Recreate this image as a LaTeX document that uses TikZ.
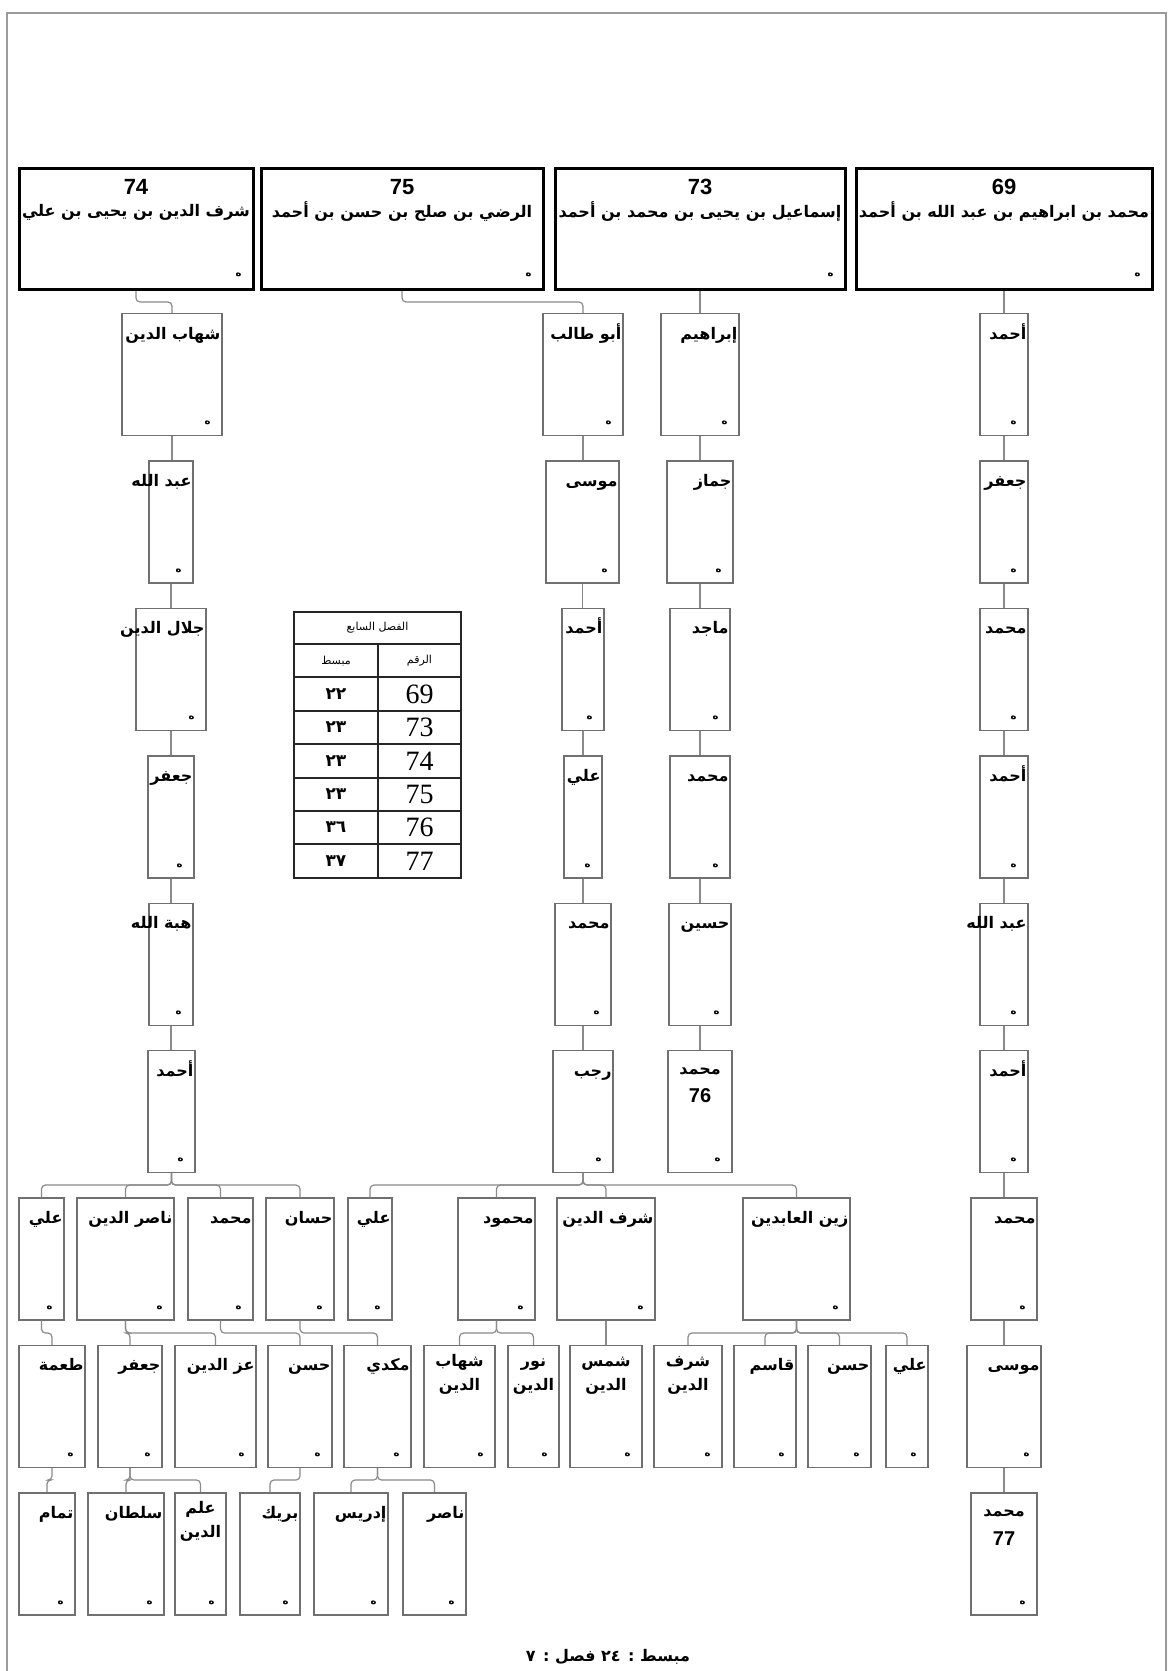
\documentclass[tikz,border=0pt]{standalone}
\usepackage{fontspec}
\setmainfont{Liberation Sans}
\newfontfamily\arabicf[Script=Arabic]{DejaVu Sans}
\newfontfamily\serifnum{Liberation Serif}
\TeXXeTstate=1
\usetikzlibrary{calc}
\definecolor{boxgray}{HTML}{707070}
\definecolor{linegray}{HTML}{8A8A8A}
\definecolor{framegray}{HTML}{9A9A9A}
\tikzset{
 pbox/.style={draw=boxgray, line width=1.3pt, minimum height=122pt, inner sep=0pt, anchor=north},
 topbox/.style={draw=black, line width=3pt, minimum height=121pt, inner sep=0pt, anchor=north},
 lbl/.style={font=\arabicf\bfseries\fontsize{16}{20}\selectfont, inner sep=1pt, anchor=base east},
 lblc/.style={font=\arabicf\bfseries\fontsize{16}{24}\selectfont, inner sep=1pt, anchor=north, align=center},
 tname/.style={font=\arabicf\bfseries\fontsize{16}{20}\selectfont, inner sep=0pt},
 tnum/.style={font=\bfseries\fontsize{22}{24}\selectfont, inner sep=0pt},
 hmark/.style={font=\arabicf\bfseries\fontsize{10}{11}\selectfont, inner sep=0pt},
 conn/.style={draw=linegray, line width=1.2pt, rounded corners=4pt},
 tbl/.style={draw=black!85, line width=1.6pt},
 tcell/.style={inner sep=0pt},
}
% box: name, left, right, top, label
\newcommand\pbx[5]{%
  \node[pbox, minimum width={(#3-#2)*1pt}] (#1) at ({(#2+#3)/2},#4) {};
  \node[lbl] (#1-t) at ([xshift=-1pt,yshift=-26pt]#1.north east) {\beginR #5\endR};
  \node[hmark] (#1-h) at ([xshift=-15pt,yshift=13pt]#1.south east) {ه};
}
% box with centred multi-line label
\newcommand\pbxm[5]{%
  \node[pbox, minimum width={(#3-#2)*1pt}] (#1) at ({(#2+#3)/2},#4) {};
  \node[lblc] (#1-t) at ([yshift=-3pt]#1.north) {\rule{0pt}{17pt}#5};
  \node[hmark] (#1-h) at ([xshift=-15pt,yshift=13pt]#1.south east) {ه};
}
% box with name and number
\newcommand\pbxc[6]{%
  \node[pbox, minimum width={(#3-#2)*1pt}] (#1) at ({(#2+#3)/2},#4) {};
  \node[lbl, anchor=base] (#1-t) at ([yshift=-24pt]#1.north) {\beginR #5\endR};
  \node[tnum, font=\bfseries\fontsize{20}{22}\selectfont] (#1-n) at ([yshift=-46pt]#1.north) {#6};
  \node[hmark] (#1-h) at ([xshift=-15pt,yshift=13pt]#1.south east) {ه};
}
% top box: name, left, right, top, number, text
\newcommand\tbx[6]{%
  \node[topbox, minimum width={(#3-#2)*1pt}] (#1) at ({(#2+#3)/2},#4) {};
  \node[tnum] (#1-n) at ([yshift=-20pt]#1.north) {#5};
  \node[tname] (#1-t) at ([yshift=-45pt]#1.north) {\beginR #6\endR};
  \node[hmark] (#1-h) at ([xshift=-16pt,yshift=16pt]#1.south east) {ه};
}
\newcommand\cn[3]{\draw[conn] (#1.south) -- (#1.south |- 0,#3) -| (#2.north);}
\newcommand\cs[2]{\draw[conn] (#1.south) -- (#1.south |- #2.north);}

\begin{document}
\begin{tikzpicture}[x=1pt,y=-1pt]
\useasboundingbox (0,0) rectangle (1169,1671);
\fill[white] (0,0) rectangle (1169,1671);
% page frame
\draw[framegray, line width=1.5pt] (7,1700) -- (7,13) -- (1166,13) -- (1166,1700);

% top boxes
\tbx{T74}{19}{253}{167}{74}{شرف الدين بن يحيى بن علي}
\tbx{T75}{261}{543}{167}{75}{الرضي بن صلح بن حسن بن أحمد}
\tbx{T73}{555}{845}{167}{73}{إسماعيل بن يحيى بن محمد بن أحمد}
\tbx{T69}{856}{1152}{167}{69}{محمد بن ابراهيم بن عبد الله بن أحمد}

% column 74
\pbx{a1}{122}{222}{313}{شهاب الدين}
\pbx{a2}{149}{193}{460.4}{عبد الله}
\pbx{a3}{136}{206}{607.8}{جلال الدين}
\pbx{a4}{148}{194}{755.2}{جعفر}
\pbx{a5}{149}{193}{902.6}{هبة الله}
\pbx{a6}{148}{195}{1050}{أحمد}
% column 75
\pbx{b1}{543}{623}{313}{أبو طالب}
\pbx{b2}{546}{619}{460.4}{موسى}
\pbx{b3}{562}{604}{607.8}{أحمد}
\pbx{b4}{564}{602}{755.2}{علي}
\pbx{b5}{555}{611}{902.6}{محمد}
\pbx{b6}{553}{613}{1050}{رجب}
% column 73
\pbx{c1}{661}{739}{313}{إبراهيم}
\pbx{c2}{667}{733}{460.4}{جماز}
\pbx{c3}{670}{730}{607.8}{ماجد}
\pbx{c4}{670}{730}{755.2}{محمد}
\pbx{c5}{669}{731}{902.6}{حسين}
\pbxc{c6}{668}{732}{1050}{محمد}{76}
% column 69
\pbx{d1}{980}{1028}{313}{أحمد}
\pbx{d2}{980}{1028}{460.4}{جعفر}
\pbx{d3}{980}{1028}{607.8}{محمد}
\pbx{d4}{980}{1028}{755.2}{أحمد}
\pbx{d5}{980}{1028}{902.6}{عبد الله}
\pbx{d6}{980}{1028}{1050}{أحمد}
\pbx{d7}{971}{1037}{1197.4}{محمد}
\pbx{d8}{967}{1041}{1344.8}{موسى}
\pbxc{d9}{971}{1037}{1492.2}{محمد}{77}

% row 7
\pbx{e1}{19}{64}{1197.4}{علي}
\pbx{e2}{77}{174}{1197.4}{ناصر الدين}
\pbx{e3}{188}{253}{1197.4}{محمد}
\pbx{e4}{266}{334}{1197.4}{حسان}
\pbx{e5}{348}{392}{1197.4}{علي}
\pbx{e6}{458}{535}{1197.4}{محمود}
\pbx{e7}{557}{655}{1197.4}{شرف الدين}
\pbx{e8}{743}{850}{1197.4}{زين العابدين}

% row 8
\pbx{f1}{19}{85}{1344.8}{طعمة}
\pbx{f2}{98}{162}{1344.8}{جعفر}
\pbx{f3}{175}{256}{1344.8}{عز الدين}
\pbx{f4}{268}{332}{1344.8}{حسن}
\pbx{f5}{344}{411}{1344.8}{مكدي}
\pbxm{f6}{424}{495}{1344.8}{\beginR شهاب\endR\\\beginR الدين\endR}
\pbxm{f7}{508}{559}{1344.8}{\beginR نور\endR\\\beginR الدين\endR}
\pbxm{f8}{570}{642}{1344.8}{\beginR شمس\endR\\\beginR الدين\endR}
\pbxm{f9}{654}{722}{1344.8}{\beginR شرف\endR\\\beginR الدين\endR}
\pbx{f10}{734}{796}{1344.8}{قاسم}
\pbx{f11}{808}{871}{1344.8}{حسن}
\pbx{f12}{886}{928}{1344.8}{علي}

% row 9
\pbx{g1}{19}{75}{1492.2}{تمام}
\pbx{g2}{88}{164}{1492.2}{سلطان}
\pbxm{g3}{175}{226}{1492.2}{\beginR علم\endR\\\beginR الدين\endR}
\pbx{g4}{240}{300}{1492.2}{بريك}
\pbx{g5}{314}{388}{1492.2}{إدريس}
\pbx{g6}{403}{466}{1492.2}{ناصر}

% connectors: top
\cn{T74}{a1}{302}
\cn{T75}{b1}{302}
\cs{T73}{c1}
\cs{T69}{d1}
% chains
\cs{a1}{a2}\cs{a2}{a3}\cs{a3}{a4}\cs{a4}{a5}\cs{a5}{a6}
\cs{b1}{b2}\cs{b2}{b3}\cs{b3}{b4}\cs{b4}{b5}\cs{b5}{b6}
\cs{c1}{c2}\cs{c2}{c3}\cs{c3}{c4}\cs{c4}{c5}\cs{c5}{c6}
\cs{d1}{d2}\cs{d2}{d3}\cs{d3}{d4}\cs{d4}{d5}\cs{d5}{d6}
\cs{d6}{d7}\cs{d7}{d8}\cs{d8}{d9}
% row 6 -> row 7
\cn{a6}{e1}{1185}\cn{a6}{e2}{1185}\cn{a6}{e3}{1185}\cn{a6}{e4}{1185}
\cn{b6}{e5}{1185}\cn{b6}{e6}{1185}\cn{b6}{e7}{1185}\cn{b6}{e8}{1185}
% row 7 -> row 8
\cn{e1}{f1}{1333}
\cn{e2}{f2}{1333}\cn{e2}{f3}{1333}
\cn{e3}{f4}{1333}
\cn{e4}{f5}{1333}
\cn{e6}{f6}{1333}\cn{e6}{f7}{1333}
\cs{e7}{f8}
\cn{e8}{f9}{1333}\cn{e8}{f10}{1333}\cn{e8}{f11}{1333}\cn{e8}{f12}{1333}
% row 8 -> row 9
\cn{f1}{g1}{1480}
\cn{f2}{g2}{1480}\cn{f2}{g3}{1480}
\cn{f4}{g4}{1480}
\cn{f5}{g5}{1480}\cn{f5}{g6}{1480}

% table
\draw[tbl] (294,612) rectangle (461,878);
\foreach \yy in {644,677,711,744,778,811,844} \draw[tbl] (294,\yy) -- (461,\yy);
\draw[tbl] (378,644) -- (378,878);
\node[tcell, font=\arabicf\fontsize{11}{12}\selectfont] (tt) at (377.5,628) {\beginR الفصل السابع\endR};
\node[tcell, font=\arabicf\fontsize{11}{12}\selectfont] (th1) at (419.5,661) {الرقم};
\node[tcell, font=\arabicf\fontsize{11}{12}\selectfont] (th2) at (336,661) {مبسط};
\foreach \nn/\aa/\yy in {69/٢٢/694, 73/٢٣/727.5, 74/٢٣/761, 75/٢٣/794.5, 76/٣٦/827.5, 77/٣٧/861}{
  \node[tcell, font=\serifnum\fontsize{28}{30}\selectfont] (tn\nn) at (419.5,\yy) {\nn};
  \node[tcell, font=\arabicf\bfseries\fontsize{17}{20}\selectfont] (ta\nn) at (336,\yy) {\aa};
}

% footer
\node[inner sep=0pt, font=\arabicf\bfseries\fontsize{16}{20}\selectfont] (foot) at (608,1657) {\beginR مبسط : \beginL ٢٤\endL{}  فصل : ٧\endR};
\end{tikzpicture}
\end{document}
